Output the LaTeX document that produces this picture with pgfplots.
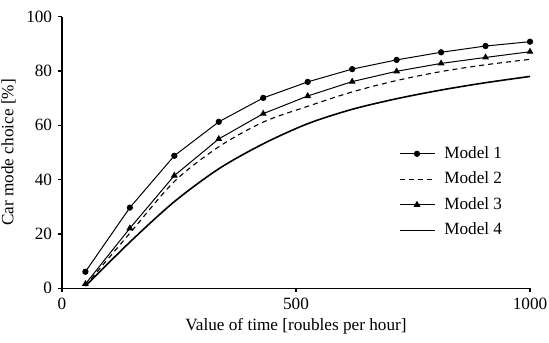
\documentclass[border=0pt]{standalone}
\usepackage{pgfplots}
\pgfplotsset{compat=1.18}
\usepackage{fontspec}
\setmainfont{Liberation Serif}
\begin{document}
\fontsize{17.2bp}{19bp}\selectfont
\begin{tikzpicture}[x=1bp,y=1bp]
\path[use as bounding box] (-62,-53.7) rectangle (487,288.3);
\begin{axis}[
  at={(0,0)}, anchor=south west,
  scale only axis, width=468bp, height=271.6bp,
  xmin=0, xmax=1000, ymin=0, ymax=100,
  axis lines=left, axis line style={-, line width=1.3bp},
  tick align=outside, major tick length=4bp,
  tick style={line width=1.1bp, black},
  xtick={0,500,1000}, ytick={0,20,40,60,80,100},
  /pgf/number format/assume math mode=true,
  /pgf/number format/1000 sep={},
  ticklabel style={font=\fontsize{17.2bp}{19bp}\selectfont},
  label style={font=\fontsize{17.2bp}{19bp}\selectfont},
  xlabel={Value of time [roubles per hour]},
  ylabel={Car mode choice [\%]},
  xlabel style={yshift=3bp},
  ylabel style={yshift=-1bp},
  legend style={draw=none, fill=none, at={(axis cs:719,53)}, anchor=north west,
    font=\fontsize{17.2bp}{19bp}\selectfont, row sep=7bp,
    inner sep=0pt},
  legend cell align=left,
  legend image code/.code={\draw[mark repeat=2,mark phase=2,#1] plot coordinates {(0bp,0bp) (17.5bp,0bp) (35bp,0bp)};\path (42bp,0bp);},
]
\addplot[black, line width=1bp, mark=*, mark size=2.6bp] coordinates {
(50,6.1) (145,29.7) (240,48.8) (335,61.3) (430,70.1) (525,76.0) (620,80.7) (715,84.1) (810,86.9) (905,89.2) (1000,90.8)};
\addlegendentry{Model 1}
\addplot[black, line width=1.1bp, dashed, dash pattern=on 5bp off 4bp, smooth] coordinates {
(50,1.0) (145,20.3) (240,39.3) (335,52.1) (430,61.2) (525,67.0) (620,72.3) (715,76.5) (810,79.8) (905,82.3) (1000,84.3)};
\addlegendentry{Model 2}
\addplot[black, line width=1bp, mark=triangle*, mark size=3bp] coordinates {
(50,1.6) (145,22.1) (240,41.5) (335,55.0) (430,64.3) (525,70.8) (620,76.1) (715,79.9) (810,82.8) (905,85.0) (1000,87.1)};
\addlegendentry{Model 3}
\addplot[black, line width=1.6bp, smooth] coordinates {
(50,0.8) (145,17.0) (240,31.9) (335,44.0) (430,53.2) (525,60.6) (620,65.9) (715,69.8) (810,73.0) (905,75.7) (1000,78.0)};
\addlegendentry{Model 4}
\end{axis}
\end{tikzpicture}
\end{document}
